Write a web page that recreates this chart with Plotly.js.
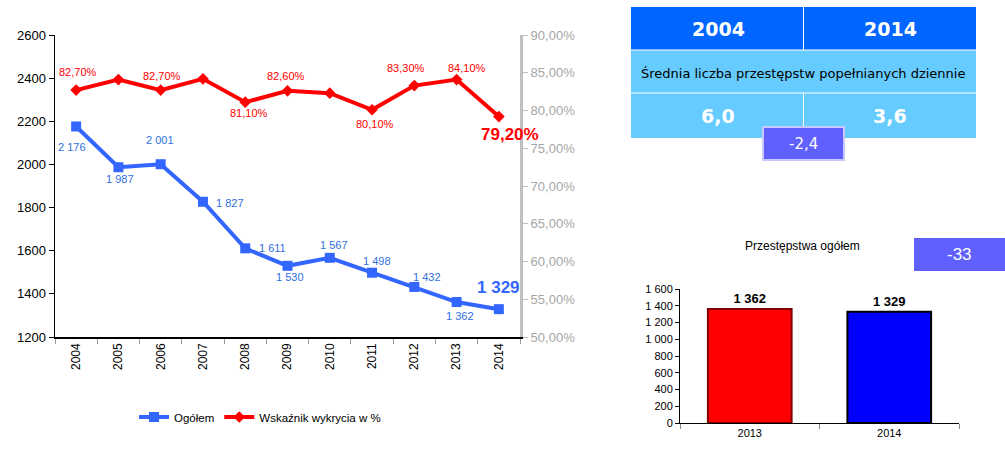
<!DOCTYPE html>
<html>
<head>
<meta charset="utf-8">
<script src="https://cdn.plot.ly/plotly-3.0.1.min.js"></script>
<style>html,body{margin:0;padding:0;background:#fff;}#chart{width:1005px;height:462px;}</style>
</head>
<body>
<div id="chart"></div>
<script>
// ---- data ----
const years = ['2004','2005','2006','2007','2008','2009','2010','2011','2012','2013','2014'];
const totalCrimes = [2176, 1987, 2001, 1827, 1611, 1530, 1567, 1498, 1432, 1362, 1329];
const detectionRate = [82.7, 84.1, 82.7, 84.2, 81.1, 82.6, 82.3, 80.1, 83.3, 84.1, 79.2];
const detectionLabelShown = [true, false, true, false, true, true, false, true, true, true, true];
const seriesNames = ['Ogółem', 'Wskaźnik wykrycia w %'];

const tableYears = ['2004', '2014'];
const tableCaption = 'Średnia liczba przestępstw popełnianych dziennie';
const dailyAverage = [6.0, 3.6];
const dailyChange = -2.4;

const barTitle = 'Przestępstwa ogółem';
const barYears = ['2013', '2014'];
const barValues = [1362, 1329];
const barChange = -33;

// ---- helpers ----
const W = 1005, H = 462;
const px = x => x / W;
const py = y => 1 - y / H;
const fmtInt = v => String(Math.round(v)).replace(/\B(?=(\d{3})+(?!\d))/g, ' ');
const fmtPct = v => v.toFixed(2).replace('.', ',') + '%';
const fmtDec = v => v.toFixed(1).replace('.', ',');

const FONT = 'Liberation Sans, Arial, sans-serif';
const TFONT = 'DejaVu Sans, Verdana, sans-serif';
const blue = '#3366FF';
const red = '#FF0000';

// label offsets (pixels)
const blueShift = [[-4,-21],[2,-12],[-1,24],[27,-1],[27,0],[2,-11],[4,13],[5,12],[13,10],[3,-14],[0,22]];
const redShift = [[2,18],[0,0],[1,14],[0,0],[4,-11],[-2,15],[0,0],[3,-14],[-8,18],[10,12],[11,-18]];

const traces = [
  {
    type: 'scatter', mode: 'lines+markers', name: seriesNames[0],
    x: years, y: totalCrimes, xaxis: 'x', yaxis: 'y',
    line: {color: blue, width: 4},
    marker: {symbol: 'square', size: 10, color: blue}
  },
  {
    type: 'scatter', mode: 'lines+markers', name: seriesNames[1],
    x: years, y: detectionRate, xaxis: 'x', yaxis: 'y2',
    line: {color: red, width: 4},
    marker: {symbol: 'diamond', size: 9, color: red}
  },
  {
    type: 'bar', x: barYears, y: barValues, xaxis: 'x3', yaxis: 'y3',
    showlegend: false, width: 0.6,
    marker: {color: ['#FF0000', '#0000FF'], line: {color: ['#800000', '#000000'], width: 2}},
    texttemplate: '<b>%{y:,d}</b>', textposition: 'outside', cliponaxis: false,
    textfont: {family: FONT, size: 13, color: '#000'}
  }
];

const annotations = [];
const last = years.length - 1;
years.forEach((yr, i) => {
  const big = i === last;
  annotations.push({
    x: i, y: totalCrimes[i], xref: 'x', yref: 'y', xanchor: 'center', yanchor: 'middle',
    text: big ? '<b>' + fmtInt(totalCrimes[i]) + '</b>' : fmtInt(totalCrimes[i]),
    showarrow: false, xshift: blueShift[i][0], yshift: blueShift[i][1],
    font: {family: FONT, size: big ? 17 : 11, color: big ? blue : '#2F6FE0'}
  });
  if (detectionLabelShown[i]) {
    annotations.push({
      x: i, y: detectionRate[i], xref: 'x', yref: 'y2', xanchor: 'center', yanchor: 'middle',
      text: big ? '<b>' + fmtPct(detectionRate[i]) + '</b>' : fmtPct(detectionRate[i]),
      showarrow: false, xshift: redShift[i][0], yshift: redShift[i][1],
      font: {family: FONT, size: big ? 17 : 11, color: red}
    });
  }
});

// table texts
const P = (x, y, text, font) => ({xref:'paper', yref:'paper', x: px(x), y: py(y), xanchor:'center', yanchor:'middle', text, showarrow:false, font});
annotations.push(
  P(718, 29, '<b>' + tableYears[0] + '</b>', {family:TFONT, size:19, color:'#fff'}),
  P(890, 29, '<b>' + tableYears[1] + '</b>', {family:TFONT, size:19, color:'#fff'}),
  P(803, 73, tableCaption, {family:TFONT, size:13, color:'#000'}),
  P(718, 116, '<b>' + fmtDec(dailyAverage[0]) + '</b>', {family:TFONT, size:19, color:'#fff'}),
  P(890, 116, '<b>' + fmtDec(dailyAverage[1]) + '</b>', {family:TFONT, size:19, color:'#fff'}),
  P(803, 144, fmtDec(dailyChange), {family:TFONT, size:15, color:'#fff'}),
  P(802, 246, barTitle, {family:FONT, size:12, color:'#000'}),
  P(959, 254, String(barChange), {family:FONT, size:17, color:'#fff'})
);

const shapes = [
  {type:'rect', xref:'paper', yref:'paper', x0:px(631), x1:px(976), y0:py(7), y1:py(50), fillcolor:'#0066FF', line:{width:0}, layer:'below'},
  {type:'rect', xref:'paper', yref:'paper', x0:px(631), x1:px(976), y0:py(50), y1:py(138), fillcolor:'#66CCFF', line:{width:0}, layer:'below'},
  {type:'line', xref:'paper', yref:'paper', x0:px(631), x1:px(976), y0:py(50), y1:py(50), line:{color:'#fff', width:1}},
  {type:'line', xref:'paper', yref:'paper', x0:px(631), x1:px(976), y0:py(93), y1:py(93), line:{color:'#fff', width:1}},
  {type:'line', xref:'paper', yref:'paper', x0:px(803.5), x1:px(803.5), y0:py(7), y1:py(50), line:{color:'#fff', width:1}},
  {type:'line', xref:'paper', yref:'paper', x0:px(803.5), x1:px(803.5), y0:py(93), y1:py(138), line:{color:'#fff', width:1}},
  {type:'rect', xref:'paper', yref:'paper', x0:px(763), x1:px(844), y0:py(127), y1:py(160), fillcolor:'#6060FF', line:{color:'#C8C8FF', width:2}},
  {type:'rect', xref:'paper', yref:'paper', x0:px(914), x1:px(1005), y0:py(238), y1:py(271), fillcolor:'#6060FF', line:{width:0}}
];

const layout = {
  width: W, height: H,
  margin: {l:0, r:0, t:0, b:0},
  paper_bgcolor: '#fff', plot_bgcolor: 'rgba(0,0,0,0)',
  separators: ', ',
  font: {family: FONT, color: '#000'},
  showlegend: true,
  legend: {orientation:'h', x: px(260), xanchor:'center', y: py(417), yanchor:'middle',
           font:{family:FONT, size:11.5, color:'#000'}, bgcolor:'rgba(0,0,0,0)'},
  xaxis: {
    domain: [px(55), px(520)], anchor: 'y', type: 'category', range: [-0.5, 10.5],
    showline: true, linecolor: '#000', linewidth: 1.5, showgrid: false, zeroline: false,
    ticks: 'outside', tickson: 'boundaries', ticklen: 5, tickcolor: '#999',
    tickangle: -90, tickfont: {family: FONT, size: 12, color: '#000'}
  },
  yaxis: {
    domain: [py(337), py(35)], anchor: 'x', range: [1200, 2600], dtick: 200, tickformat: 'd',
    showline: true, linecolor: '#000', linewidth: 1.5, showgrid: false, zeroline: false,
    ticks: 'outside', ticklen: 5, tickcolor: '#000',
    tickfont: {family: FONT, size: 13, color: '#000'}
  },
  yaxis2: {
    overlaying: 'y', side: 'right', anchor: 'x', range: [50, 90], dtick: 5,
    tickformat: '.2f', ticksuffix: '%',
    showline: true, linecolor: '#BFBFBF', linewidth: 3, showgrid: false, zeroline: false,
    ticks: 'outside', ticklen: 5, tickcolor: '#BFBFBF',
    tickfont: {family: FONT, size: 13, color: '#A6A6A6'}
  },
  xaxis3: {
    domain: [px(680), px(959)], anchor: 'y3', type: 'category', range: [-0.5, 1.5],
    showline: true, linecolor: '#000', linewidth: 1, showgrid: false, zeroline: false,
    ticks: 'outside', tickson: 'boundaries', ticklen: 5, tickcolor: '#888',
    tickfont: {family: FONT, size: 11, color: '#000'}
  },
  yaxis3: {
    domain: [py(423), py(289)], anchor: 'x3', range: [0, 1600], dtick: 200, tickformat: ',d',
    showline: true, linecolor: '#000', linewidth: 1, showgrid: false, zeroline: false,
    ticks: 'outside', ticklen: 4, tickcolor: '#000',
    tickfont: {family: FONT, size: 11, color: '#000'}
  },
  shapes: shapes,
  annotations: annotations
};

Plotly.newPlot('chart', traces, layout, {displayModeBar: false, staticPlot: true});
</script>
</body>
</html>
